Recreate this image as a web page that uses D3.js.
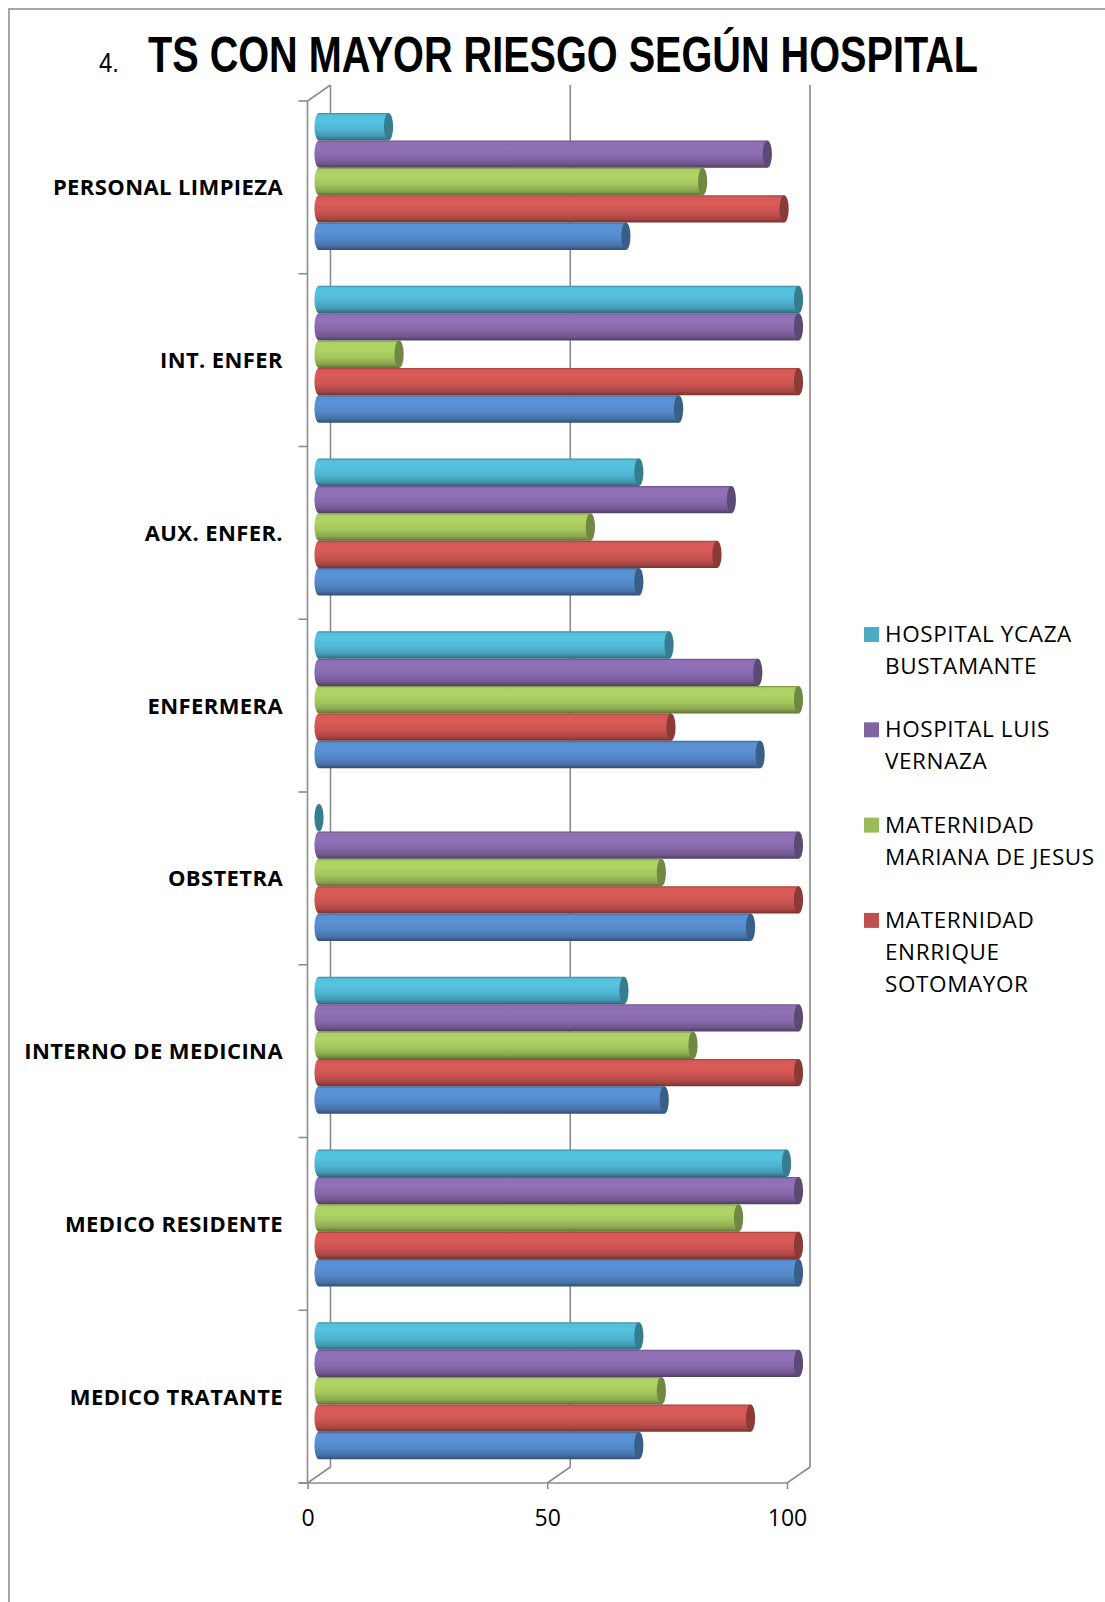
<!DOCTYPE html>
<html>
<head>
<meta charset="utf-8">
<script src="https://cdn.jsdelivr.net/npm/d3@7"></script>
<style>
  body { margin: 0; background: #fff; }
  svg text { fill: #000; }
</style>
</head>
<body>
<div id="chart"></div>
<script>
// categories, top to bottom
var categories = ["PERSONAL LIMPIEZA", "INT. ENFER", "AUX. ENFER.", "ENFERMERA",
  "OBSTETRA", "INTERNO DE MEDICINA", "MEDICO RESIDENTE", "MEDICO TRATANTE"];

// series, drawn top to bottom inside each group
var seriesKeys = ["ycaza", "vernaza", "mariana", "enrrique", "otro"];
var legendLines = [["HOSPITAL YCAZA", "BUSTAMANTE"], ["HOSPITAL LUIS", "VERNAZA"],
  ["MATERNIDAD", "MARIANA DE JESUS"], ["MATERNIDAD", "ENRRIQUE", "SOTOMAYOR"]];
var seriesColors = ["#4BACC6", "#8064A2", "#9BBB59", "#C0504D", "#4F81BD"];

var ycaza    = [14.5, 100, 66.7, 73, 0, 63.6, 97.5, 66.7];
var vernaza  = [93.5, 100, 86, 91.5, 100, 100, 100, 100];
var mariana  = [80, 16.7, 56.6, 100, 71.4, 78, 87.5, 71.4];
var enrrique = [97, 100, 83, 73.4, 100, 100, 100, 90];
var otro     = [64, 75, 66.7, 92, 90, 72, 100, 66.7];

var tickValues = [0, 50, 100];

var values = { ycaza: ycaza, vernaza: vernaza, mariana: mariana, enrrique: enrrique, otro: otro };

var svg = d3.select('#chart')
  .append('svg')
  .attr('width', 1105)
  .attr('height', 1602);

// page frame
svg.append('rect')
  .attr('x', 9).attr('y', 9)
  .attr('width', 1120).attr('height', 1620)
  .attr('fill', 'none')
  .attr('stroke', '#a6a6a6')
  .attr('stroke-width', 2);

// title
svg.append('text')
  .attr('x', 99).attr('y', 72)
  .style('font-family', "'Liberation Sans Narrow', 'Liberation Sans', Arial, sans-serif")
  .style('font-size', '28px')
  .attr('textLength', 20).attr('lengthAdjust', 'spacingAndGlyphs')
  .text('4.');

svg.append('text')
  .attr('x', 148).attr('y', 72)
  .style('font-family', "'Liberation Sans Narrow', 'Liberation Sans', Arial, sans-serif")
  .style('font-size', '50px')
  .style('font-weight', 'bold')
  .attr('textLength', 830).attr('lengthAdjust', 'spacingAndGlyphs')
  .text('TS CON MAYOR RIESGO SEGÚN HOSPITAL');

// scales
var depth = { dx: 23, dy: -16 };
var x = d3.scaleLinear().domain([0, 100]).range([307.5, 787]);
var y0 = d3.scaleBand().domain(categories).range([101, 1483]);
var y1 = d3.scaleBand().domain(seriesKeys).range([12, 149]);
// bars sit half way into the depth of the box
var xb = function (v) { return x(v) + depth.dx / 2; };

var axisColor = '#8c8c8c';
var grid = svg.append('g').attr('stroke', axisColor).attr('stroke-width', 1.6).attr('fill', 'none');
var yTop = y0.range()[0], yBottom = y0.range()[1];

// back wall gridlines + floor diagonals
tickValues.forEach(function (t) {
  grid.append('path')
    .attr('d', 'M' + (x(t) + depth.dx) + ',' + (yTop + depth.dy) +
      'V' + (yBottom + depth.dy) +
      'L' + x(t) + ',' + yBottom);
});
// left wall front edge
grid.append('path')
  .attr('d', 'M' + (x(0) + depth.dx) + ',' + (yTop + depth.dy) + 'L' + x(0) + ',' + yTop + 'V' + yBottom);

// category ticks
var bounds = categories.map(function (c) { return y0(c); }).concat([yBottom]);
grid.selectAll('.ctick').data(bounds).enter().append('path')
  .attr('d', function (d) { return 'M' + (x(0) - 9) + ',' + d + 'H' + x(0); });

// x axis
var xaxis = svg.append('g')
  .attr('transform', 'translate(0,' + yBottom + ')')
  .call(d3.axisBottom(x).tickValues(tickValues).tickSize(6).tickPadding(21).tickSizeOuter(0));
xaxis.select('.domain').attr('stroke', axisColor).attr('stroke-width', 1.6)
  .attr('d', 'M' + (x(0) - 9) + ',0H' + x(100));
xaxis.selectAll('.tick line').attr('stroke', axisColor).attr('stroke-width', 1.6);
xaxis.selectAll('.tick text')
  .style('font-family', "'Open Sans', sans-serif")
  .style('font-size', '23px')
  .attr('fill', '#000');

// category labels
svg.append('g').selectAll('text').data(categories).enter().append('text')
  .attr('x', 283)
  .attr('y', function (d) { return y0(d) + y0.bandwidth() / 2; })
  .attr('dy', '0.36em')
  .attr('text-anchor', 'end')
  .style('font-family', "'Open Sans', sans-serif")
  .style('font-size', '22px')
  .style('letter-spacing', '0.4px')
  .style('font-weight', 'bold')
  .text(function (d) { return d; });

// cylinder gradients
var defs = svg.append('defs');
seriesKeys.forEach(function (k, i) {
  var c = d3.color(seriesColors[i]);
  var grad = defs.append('linearGradient')
    .attr('id', 'g-' + k)
    .attr('x1', 0).attr('y1', 0).attr('x2', 0).attr('y2', 1);
  [[0, c.darker(0.7)], [0.07, c.brighter(0.3)], [0.3, c.brighter(0.35)],
   [0.6, c.brighter(0.15)], [0.85, c.darker(0.35)], [1, c.darker(1.4)]]
    .forEach(function (s) {
      grad.append('stop').attr('offset', s[0]).attr('stop-color', s[1].formatHex());
    });
});

// bars
var bars = [];
categories.forEach(function (c, ci) {
  seriesKeys.forEach(function (k, si) {
    bars.push({ cat: c, key: k, si: si, value: values[k][ci] });
  });
});

var rx = 4.6;
var barG = svg.append('g');
var bar = barG.selectAll('g.bar').data(bars).enter().append('g').attr('class', 'bar');

bar.filter(function (d) { return d.value > 0; })
  .append('path')
  .attr('fill', function (d) { return 'url(#g-' + d.key + ')'; })
  .attr('d', function (d) {
    var x0 = xb(0), x1 = xb(d.value);
    var yt = y0(d.cat) + y1(d.key), h = y1.bandwidth();
    return 'M' + x0 + ',' + yt + 'H' + x1 + 'V' + (yt + h) + 'H' + x0 +
      'A' + rx + ',' + (h / 2) + ' 0 0 1 ' + x0 + ',' + yt + 'Z';
  });

// end caps
bar.append('ellipse')
  .attr('cx', function (d) { return xb(d.value); })
  .attr('cy', function (d) { return y0(d.cat) + y1(d.key) + y1.bandwidth() / 2; })
  .attr('rx', rx)
  .attr('ry', y1.bandwidth() / 2)
  .attr('fill', function (d) { return d3.color(seriesColors[d.si]).darker(0.9).formatHex(); });

// legend
var legend = svg.append('g').selectAll('g').data(legendLines).enter().append('g')
  .attr('transform', function (d, i) { return 'translate(864,' + (627 + i * 95.3) + ')'; });
legend.append('rect')
  .attr('width', 15).attr('height', 15)
  .attr('fill', function (d, i) { return seriesColors[i]; });
legend.append('text')
  .attr('x', 21)
  .attr('y', 15)
  .style('font-family', "'Open Sans', sans-serif")
  .style('font-size', '22.5px')
  .style('letter-spacing', '0.6px')
  .selectAll('tspan').data(function (d) { return d; }).enter().append('tspan')
  .attr('x', 21)
  .attr('dy', function (d, i) { return i === 0 ? 0 : 32; })
  .text(function (d) { return d; });
</script>
</body>
</html>
